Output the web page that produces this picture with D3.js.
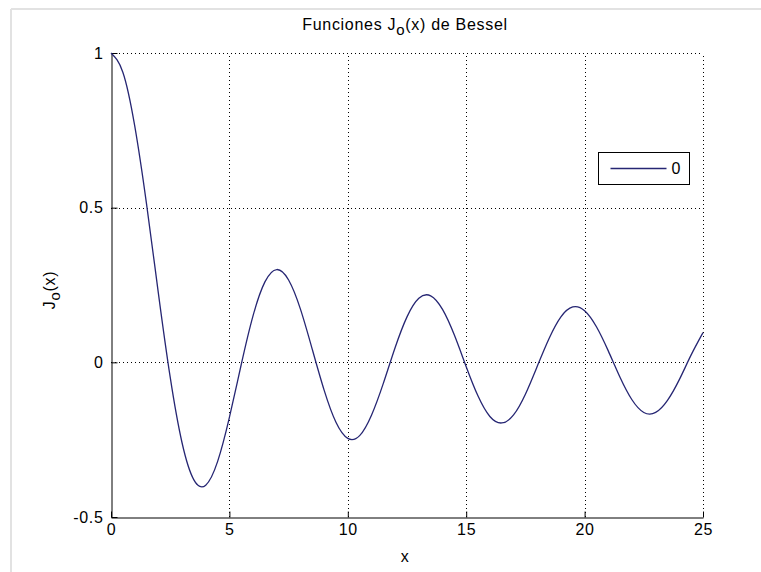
<!DOCTYPE html>
<html>
<head>
<meta charset="utf-8">
<script src="https://cdn.jsdelivr.net/npm/d3@7"></script>
<style>
  body { margin: 0; background: #fff; }
  text { font-family: "Liberation Sans", Arial, sans-serif; fill: #000; letter-spacing: 0.7px; }
</style>
</head>
<body>
<svg width="761" height="572"></svg>
<script>
// values (x step 0.5)
var xs = d3.range(0, 25.01, 0.5);
var j0 = [1.000, 0.938, 0.765, 0.512, 0.224, -0.048, -0.260, -0.380, -0.397, -0.321,
  -0.178, -0.007, 0.151, 0.260, 0.300, 0.266, 0.172, 0.042, -0.090, -0.194,
  -0.246, -0.237, -0.171, -0.068, 0.048, 0.147, 0.207, 0.215, 0.171, 0.088,
  -0.014, -0.109, -0.175, -0.196, -0.170, -0.103, -0.013, 0.077, 0.147, 0.179,
  0.167, 0.115, 0.037, -0.049, -0.121, -0.162, -0.162, -0.123, -0.056, 0.024,
  0.096];
var xTicks = [0, 5, 10, 15, 20, 25];
var yTicks = [-0.5, 0, 0.5, 1];
var legendLabels = ["0"];

var svg = d3.select("svg");

// figure border (left and top only)
svg.append("line").attr("x1", 11).attr("x2", 11).attr("y1", 9).attr("y2", 572)
    .attr("stroke", "#e2e2e2").attr("stroke-width", 2);
svg.append("line").attr("x1", 11).attr("x2", 761).attr("y1", 9).attr("y2", 9)
    .attr("stroke", "#e2e2e2").attr("stroke-width", 2);

var pLeft = 111, pRight = 703, pTop = 53, pBottom = 517;

var x = d3.scaleLinear().domain([0, 25]).range([pLeft, pRight]);
var y = d3.scaleLinear().domain([-0.5, 1]).range([pBottom, pTop]);

// grid
var grid = svg.append("g")
    .attr("stroke", "#000")
    .attr("stroke-width", 1)
    .attr("stroke-dasharray", "1,3");
grid.selectAll(".gx").data(xTicks.slice(1))
  .enter().append("line")
    .attr("x1", function(d) { return Math.round(x(d)) + 0.5; })
    .attr("x2", function(d) { return Math.round(x(d)) + 0.5; })
    .attr("y1", pBottom).attr("y2", pTop);
grid.selectAll(".gy").data(yTicks.slice(1))
  .enter().append("line")
    .attr("y1", function(d) { return Math.round(y(d)) + 0.5; })
    .attr("y2", function(d) { return Math.round(y(d)) + 0.5; })
    .attr("x1", pLeft).attr("x2", pRight);

// axes
var xAxis = d3.axisBottom(x).tickValues(xTicks).tickSizeInner(-6).tickSizeOuter(0).tickPadding(10);
var yAxis = d3.axisLeft(y).tickValues(yTicks).tickSizeInner(-6).tickSizeOuter(0).tickPadding(8)
    .tickFormat(function(d) { return d; });

var gx = svg.append("g").attr("transform", "translate(0," + (pBottom + 0.5) + ")").call(xAxis);
var gy = svg.append("g").attr("transform", "translate(" + (pLeft + 0.5) + ",0)").call(yAxis);
[gx, gy].forEach(function(g) {
  g.select(".domain").attr("stroke", "#000");
  g.selectAll(".tick line").attr("stroke", "#000");
  g.selectAll("text").style("font-size", "16px").attr("fill", "#000")
      .attr("font-family", null);
});
gx.selectAll("text").attr("dy", "0.45em");

// curve
var line = d3.line()
    .x(function(d, i) { return x(xs[i]); })
    .y(function(d) { return y(d); })
    .curve(d3.curveNatural);
svg.append("path")
    .datum(j0)
    .attr("d", line)
    .attr("fill", "none")
    .attr("stroke", "#262673")
    .attr("stroke-width", 1.3);

// title
var title = svg.append("text")
    .attr("x", 405).attr("y", 30)
    .attr("text-anchor", "middle")
    .style("font-size", "16px");
title.append("tspan").text("Funciones J");
title.append("tspan").attr("dy", 5).style("font-size", "15px").text("o");
title.append("tspan").attr("dy", -5).text("(x) de Bessel");

// axis labels
svg.append("text")
    .attr("x", 405).attr("y", 562)
    .attr("text-anchor", "middle")
    .style("font-size", "16px")
    .text("x");

var ylab = svg.append("text")
    .attr("transform", "translate(55,290) rotate(-90)")
    .attr("text-anchor", "middle")
    .style("font-size", "16px");
ylab.append("tspan").text("J");
ylab.append("tspan").attr("dy", 5).style("font-size", "15px").text("o");
ylab.append("tspan").attr("dy", -5).text("(x)");

// legend
var lg = svg.append("g").attr("transform", "translate(598.5,152.5)");
lg.append("rect").attr("width", 91).attr("height", 32)
    .attr("fill", "#fff").attr("stroke", "#000");
lg.selectAll("line.key").data(legendLabels).enter().append("line")
    .attr("x1", 12).attr("x2", 68).attr("y1", 16).attr("y2", 16)
    .attr("stroke", "#262673").attr("stroke-width", 1.3);
lg.selectAll("text.key").data(legendLabels).enter().append("text")
    .attr("x", 73).attr("y", 16).attr("dy", "0.35em")
    .style("font-size", "16px")
    .text(function(d) { return d; });
</script>
</body>
</html>
